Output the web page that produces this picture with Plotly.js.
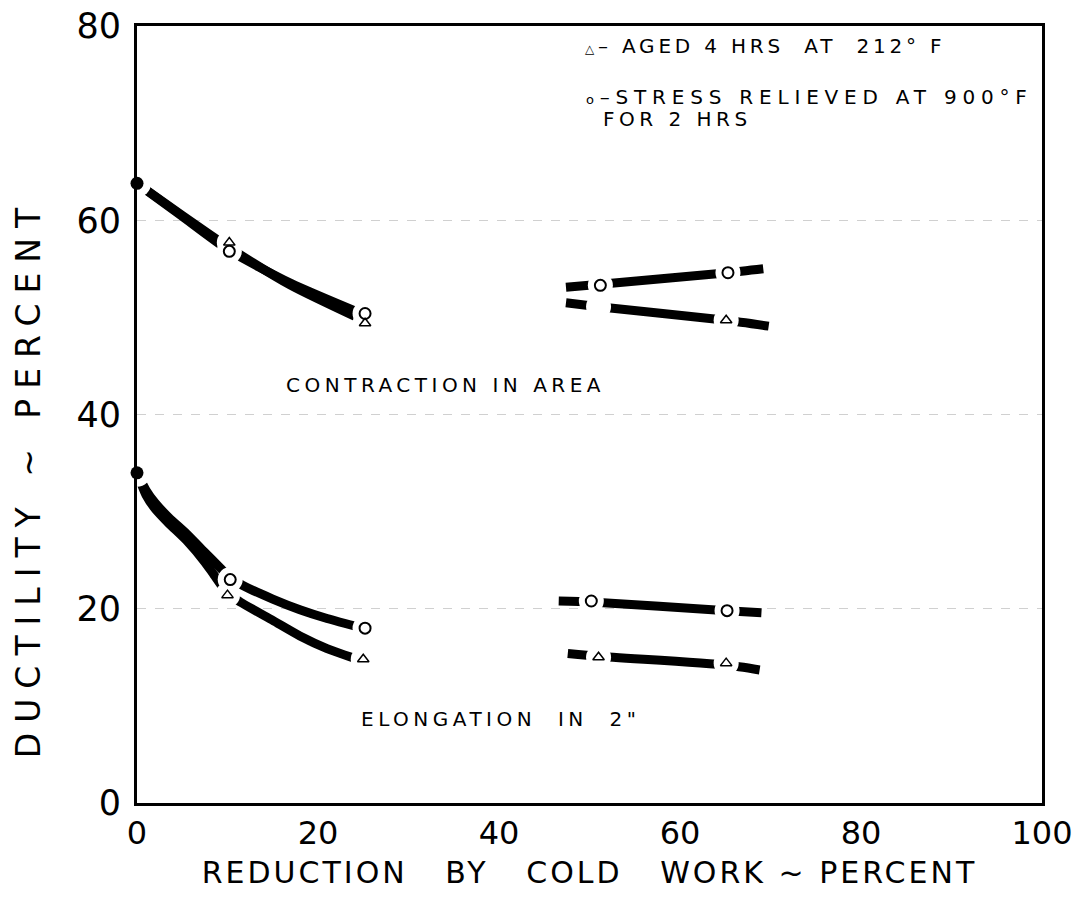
<!DOCTYPE html>
<html>
<head>
<meta charset="utf-8">
<script src="https://cdn.plot.ly/plotly-3.0.1.min.js"></script>
<style>html,body{margin:0;padding:0;background:#fff;}#chart{width:1078px;height:897px;}</style>
</head>
<body>
<div id="chart"></div>
<script>
// ---- Data ----
// Initial (as-received) values at 0 % reduction
const initX = [0, 0];
const initY = [63.8, 34.0];

// Contraction in area — curves
const caCircLeftX = [0, 5, 10, 17, 25];
const caCircLeftY = [63.8, 60.4, 57.0, 53.5, 50.3];
const caTriLeftX = [0, 5, 10, 17, 25];
const caTriLeftY = [63.8, 60.5, 57.3, 53.3, 49.7];
const caCircRightX = [47.4, 51.2, 65.3, 69.2];
const caCircRightY = [53.1, 53.4, 54.6, 55.0];
const caTriRightX = [47.4, 51.0, 65.1, 69.8];
const caTriRightY = [51.5, 51.1, 49.7, 49.1];

// Elongation in 2" — curves
const elCircLeftX = [0, 1, 2, 3.5, 5.5, 7.5, 9.2, 10.3, 11.7, 15, 18, 21, 25];
const elCircLeftY = [34.0, 32.2, 30.9, 29.4, 27.7, 25.8, 24.2, 23.2, 22.4, 21.0, 19.9, 19.0, 18.0];
const elTriLeftX = [0, 1, 2, 3.5, 5.5, 7.5, 8.5, 10, 11.4, 15, 18, 21, 25];
const elTriLeftY = [34.0, 31.7, 30.3, 28.8, 27.0, 24.8, 23.5, 21.6, 20.7, 18.8, 17.2, 15.9, 14.6];
const elCircRightX = [46.6, 50.2, 65.2, 69.0];
const elCircRightY = [20.8, 20.7, 19.8, 19.6];
const elTriRightX = [47.6, 51.0, 65.1, 68.8];
const elTriRightY = [15.4, 15.1, 14.2, 13.7];

// Measured points: stress relieved (circles) and aged (triangles)
const circX = [10.2, 25.2, 51.2, 65.3, 10.3, 25.2, 50.2, 65.2];
const circY = [56.8, 50.4, 53.3, 54.6, 23.0, 18.0, 20.8, 19.8];
const triX = [10.2, 25.2, 65.1, 10.0, 25.0, 51.0, 65.1];
const triY = [57.7, 49.4, 49.7, 21.4, 14.8, 15.0, 14.4];
// point on the aged contraction curve whose symbol is not printed (gap only)
const hiddenX = [51.0];
const hiddenY = [51.1];

const xTicks = [0, 20, 40, 60, 80, 100];
const xTickText = ['0', '20', '40', '60', '80', '100'];
const yTicks = [0, 20, 40, 60, 80];

// ---- Traces ----
const lineStyle = {color: '#000', width: 9, shape: 'spline', smoothing: 0.6};
function curve(x, y) {
  return {x: x, y: y, type: 'scatter', mode: 'lines', line: lineStyle, hoverinfo: 'skip', showlegend: false};
}
const traces = [
  curve(caCircLeftX, caCircLeftY), curve(caTriLeftX, caTriLeftY),
  curve(caCircRightX, caCircRightY), curve(caTriRightX, caTriRightY),
  curve(elCircLeftX, elCircLeftY), curve(elTriLeftX, elTriLeftY),
  curve(elCircRightX, elCircRightY), curve(elTriRightX, elTriRightY),
  // white halos that open gaps in the curves around each point
  {x: circX.concat(triX, hiddenX), y: circY.concat(triY, hiddenY), type: 'scatter', mode: 'markers',
   marker: {symbol: 'circle', size: 25, color: '#fff', line: {width: 0}}, hoverinfo: 'skip', showlegend: false},
  {x: initX, y: initY, type: 'scatter', mode: 'markers',
   marker: {symbol: 'circle', size: 28, color: '#fff', line: {width: 0}}, hoverinfo: 'skip', showlegend: false},
  // markers
  {x: initX, y: initY, type: 'scatter', mode: 'markers', cliponaxis: false,
   marker: {symbol: 'circle', size: 13, color: '#000'}, showlegend: false},
  {x: circX, y: circY, type: 'scatter', mode: 'markers',
   marker: {symbol: 'circle-open', size: 11, color: '#000', line: {width: 2, color: '#000'}}, showlegend: false},
  {x: triX, y: triY, type: 'scatter', mode: 'markers',
   marker: {symbol: 'triangle-up-open', size: 10, color: '#000', line: {width: 1.5, color: '#000'}}, showlegend: false}
];

const font = 'DejaVu Sans, Liberation Sans, sans-serif';
function spaced(t, px) { return '<span style="letter-spacing:' + px + 'px">' + t + '</span>'; }

const layout = {
  width: 1078, height: 897,
  margin: {l: 137, r: 36, t: 26, b: 94},
  paper_bgcolor: '#fff', plot_bgcolor: '#fff',
  showlegend: false,
  font: {family: font, color: '#000'},
  xaxis: {
    range: [0, 100], tickvals: xTicks, ticktext: xTickText,
    showline: true, linecolor: '#000', linewidth: 3, mirror: true,
    showgrid: false, zeroline: false, ticks: '', ticklen: 0,
    tickfont: {size: 32, family: font}, ticklabelstandoff: 0,
    title: {text: spaced('REDUCTION   BY   COLD   WORK ~ PERCENT', 3), font: {size: 30, family: font}, standoff: 11}
  },
  yaxis: {
    range: [0, 80], tickvals: yTicks,
    showline: true, linecolor: '#000', linewidth: 3, mirror: true,
    showgrid: true, gridcolor: '#d0d0d0', griddash: 'dash', gridwidth: 1,
    zeroline: false, ticks: '', tickfont: {size: 35, family: font}, ticklabelstandoff: 6
  },
  annotations: [
    {x: 0, y: 0.418, xref: 'paper', yref: 'paper', xanchor: 'center', yanchor: 'middle', xshift: -109, textangle: -90,
     text: spaced('DUCTILITY ~ PERCENT', 10), showarrow: false, font: {size: 33, family: font}},
    {x: 34.1, y: 43.0, xref: 'x', yref: 'y', text: spaced('CONTRACTION IN AREA', 4.5), showarrow: false,
     font: {size: 20, family: font}},
    {x: 40.2, y: 8.7, xref: 'x', yref: 'y', text: spaced('ELONGATION  IN  2"', 4.5), showarrow: false,
     font: {size: 20, family: font}},
    {x: 49.3, y: 77.9, xref: 'x', yref: 'y', xanchor: 'left',
     text: spaced('<span style="font-size:12px">△</span>– AGED 4 HRS  AT  212° F', 3.8), showarrow: false,
     font: {size: 20, family: font}},
    {x: 49.4, y: 72.7, xref: 'x', yref: 'y', xanchor: 'left',
     text: spaced('<span style="font-size:13px">o</span>–STRESS RELIEVED AT 900°F', 5.8), showarrow: false,
     font: {size: 20, family: font}},
    {x: 51.3, y: 70.4, xref: 'x', yref: 'y', xanchor: 'left', text: spaced('FOR 2 HRS', 4.5), showarrow: false,
     font: {size: 20, family: font}}
  ]
};

Plotly.newPlot('chart', traces, layout, {staticPlot: true, displayModeBar: false});
</script>
</body>
</html>
